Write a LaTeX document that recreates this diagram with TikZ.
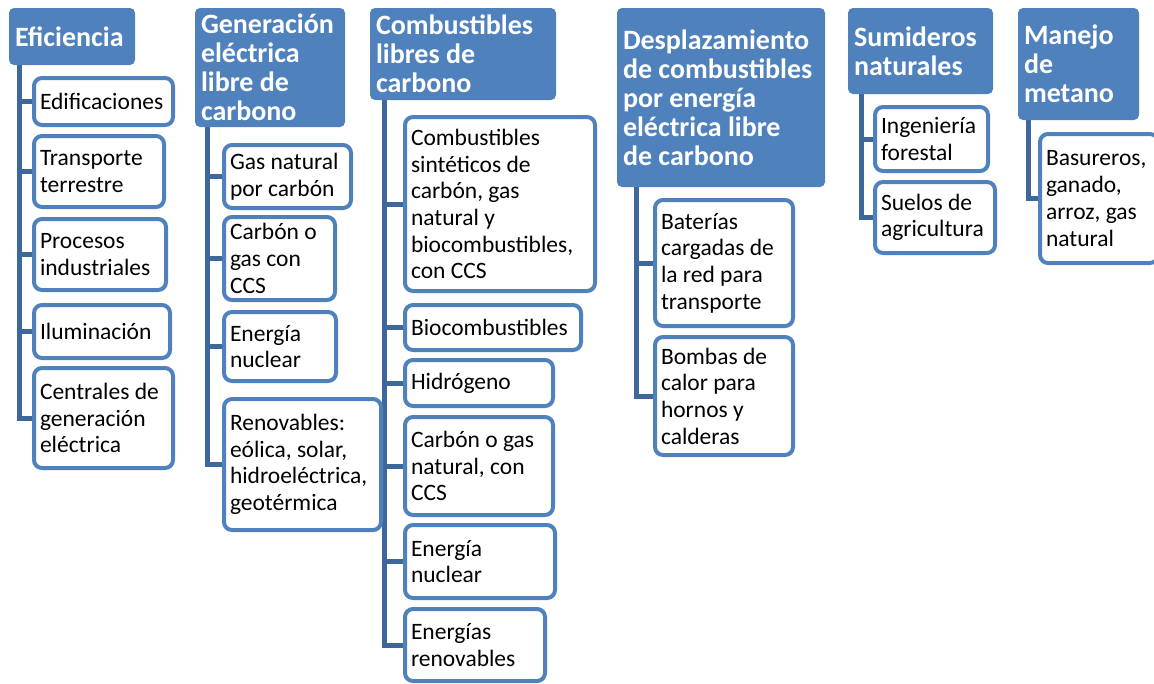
\documentclass[tikz,border=0pt]{standalone}
\usepackage{fontspec}
\setmainfont{Carlito}
\usepackage{tikz}
\usetikzlibrary{backgrounds}
\definecolor{azul}{RGB}{79,129,189}
\definecolor{azulosc}{RGB}{62,104,155}

\begin{document}
\begin{tikzpicture}[x=1pt, y=-1pt,
    cab/.style 2 args = {rectangle, fill=azul, text=white, rounded
      corners=5pt, anchor=north west, outer sep=0pt, align=flush left,
      inner xsep=0pt, inner ysep=1pt, minimum width=#1, minimum
      height=#2, text width=#1-12pt,
      font=\fontsize{28}{29}\selectfont\bfseries},
    hoja/.style 2 args = {rectangle, draw=azul, line width=4pt,
      fill=white, rounded corners=8pt, anchor=north west, outer
      sep=0pt, align=flush left, inner xsep=0pt, inner ysep=2pt, minimum
      width=#1, minimum height=#2, text width=#1-12pt,
      font=\fontsize{23.5}{26.7}\selectfont},
    rama/.style = {draw=azulosc, line width=5pt}]
  \useasboundingbox (0, 0) rectangle (1154, 683);
  \node[cab={126pt}{57pt}] (h1) at (9, 8) {Eficiencia};
  \node[cab={150pt}{119pt}] (h2) at (195, 8)
  {Generación\\eléctrica\\libre de\\carbono};
  \node[cab={186pt}{92pt}] (h3) at (370, 8)
  {Combustibles\\libres de\\carbono};
  \node[cab={208pt}{179pt}] (h4) at (617, 8) {Desplazamiento\\de
    combustibles\\por energía\\eléctrica libre\\de carbono};
  \node[cab={145pt}{86pt}] (h5) at (848, 8) {Sumideros\\naturales};
  \node[cab={121pt}{112pt}] (h6) at (1018, 8) {Manejo\\de\\metano};
  \node[hoja={139pt}{47pt}] (e1) at (34, 78) {Edificaciones};
  \node[hoja={130pt}{71pt}] (e2) at (34, 136) {Transporte\\terrestre};
  \node[hoja={132pt}{71pt}] (e3) at (34, 219) {Procesos\\industriales};
  \node[hoja={136pt}{53pt}] (e4) at (34, 305) {Iluminación};
  \node[hoja={139pt}{100pt}] (e5) at (34, 368)
  {Centrales de\\generación\\eléctrica};
  \node[hoja={127pt}{63pt}] (f1) at (224, 145) {Gas natural\\por carbón};
  \node[hoja={111pt}{83pt}] (f2) at (224, 217) {Carbón o\\gas con\\CCS};
  \node[hoja={112pt}{69pt}] (f3) at (224, 312) {Energía\\nuclear};
  \node[hoja={157pt}{131pt}] (f4) at (224, 399) {Renovables:\\eólica,
    solar,\\hidroeléctrica,\\geotérmica};
  \node[hoja={190pt}{174pt}] (g1) at (405, 117) {Combustibles\\sintéticos
    de\\carbón, gas\\natural y\\biocombustibles,\\con CCS};
  \node[hoja={176pt}{45pt}] (g2) at (405, 305) {Biocombustibles};
  \node[hoja={148pt}{46pt}] (g3) at (405, 360) {Hidrógeno};
  \node[hoja={148pt}{98pt}] (g4) at (405, 417)
  {Carbón o gas\\natural, con\\CCS};
  \node[hoja={150pt}{73pt}] (g5) at (405, 525) {Energía\\nuclear};
  \node[hoja={140pt}{72pt}] (g6) at (405, 609) {Energías\\renovables};
  \node[hoja={138pt}{126pt}] (k1) at (655, 200)
  {Baterías\\cargadas de\\la red para\\transporte};
  \node[hoja={138pt}{118pt}] (k2) at (655, 337)
  {Bombas de\\calor para\\hornos y\\calderas};
  \node[hoja={113pt}{64pt}] (m1) at (875, 107) {Ingeniería\\forestal};
  \node[hoja={120pt}{71pt}] (m2) at (875, 182) {Suelos de\\agricultura};
  \node[hoja={118pt}{129pt}] (n1) at (1040, 134)
  {Basureros,\\ganado,\\arroz, gas\\natural};
  \begin{scope}[on background layer]
    \foreach \h/\dx/\hijos in {h1/10.5/{e1,e2,e3,e4,e5},
      h2/12/{f1,f2,f3,f4}, h3/14/{g1,g2,g3,g4,g5,g6}, h4/19/{k1,k2},
      h5/13/{m1,m2}, h6/10.5/{n1}}
    \foreach \c in \hijos
    \draw[rama] ([xshift=\dx pt]\h.south west) |- (\c.west);
  \end{scope}
\end{tikzpicture}
\end{document}
